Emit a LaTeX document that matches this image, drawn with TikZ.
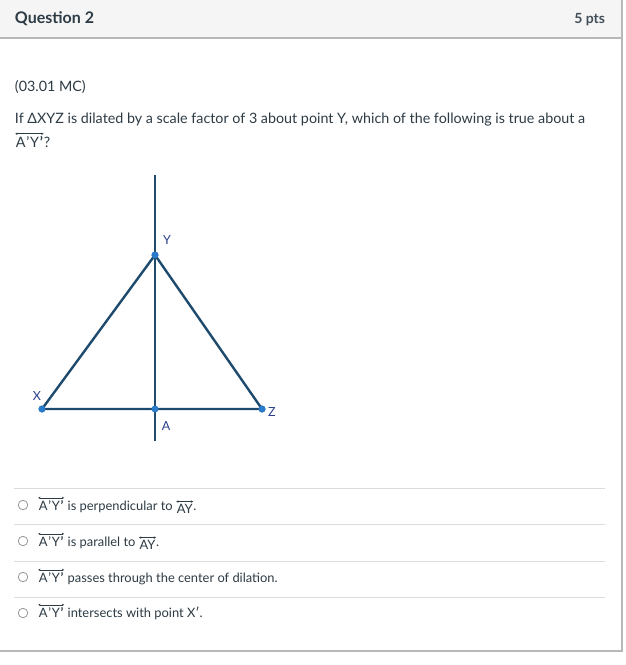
\documentclass[tikz,border=0pt]{standalone}
\usepackage{fontspec}
\setmainfont{Lato}
\usetikzlibrary{positioning,arrows.meta}
\definecolor{headgray}{HTML}{F5F5F5}
\definecolor{framegray}{HTML}{B8B8B8}
\definecolor{rulegray}{HTML}{DCDCDC}
\definecolor{txtdark}{HTML}{2D3B45}
\definecolor{segblue}{HTML}{1E4A6D}
\definecolor{dotblue}{HTML}{2B7BCB}
\definecolor{lblblue}{HTML}{2A3F8C}
% line symbol drawn over a pair of points
\newcommand{\lineover}[1]{\tikz[baseline=(w.base),x=1pt,y=1pt]{\node[inner sep=0pt,outer sep=0pt] (w) {#1};
\draw[{Stealth[length=2.2pt,width=2.4pt]}-{Stealth[length=2.2pt,width=2.4pt]},line width=0.6pt,draw=txtdark]
([xshift=-0.5pt,yshift=2.2pt]w.north west) -- ([xshift=0.5pt,yshift=2.2pt]w.north east);}}
\newcommand{\primeline}{\lineover{A\kern0.8pt’\kern0.8pt Y\kern0.8pt{\bfseries ’}}}
\begin{document}
\begin{tikzpicture}[x=1pt,y=-1pt,inner sep=0pt,outer sep=0pt,
txt/.style={anchor=base west,text=txtdark,font=\fontsize{14.3}{16}\selectfont},
opt/.style={anchor=base west,text=txtdark,font=\fontsize{12.9}{14}\selectfont},
radio/.style={draw=gray!80,circle,minimum size=9.5pt,line width=0.8pt},
seg/.style={segblue,line width=2.4pt},
pt/.style={fill=dotblue,circle,minimum size=7pt},
lbl/.style={text=lblblue,font=\fontsize{12.5}{14}\selectfont}]
\useasboundingbox (0,0) rectangle (625,665);
% frame and header
\fill[white] (0,0) rectangle (622,651);
\fill[headgray] (0,0) rectangle (622,38);
\draw[framegray,line width=1.2pt] (0,38) -- (622,38);
\draw[framegray,line width=1.4pt] (0,651) -- (622,651) -- (622,0);
\node[txt,font=\bfseries\fontsize{16}{18}\selectfont] (qtitle) at (15,23) {Question 2};
\node[anchor=base east,text=txtdark!90,font=\bfseries\fontsize{14}{16}\selectfont] (pts) at (605,23) {5 pts};
% question
\node[txt] (code) at (15,91) {(03.01 MC)};
\node[txt] (ask) at (15,123) {If ΔXYZ is dilated by a scale factor of 3 about point Y, which of the following is true about a};
\node[txt] (ask2) at (15,147) {\primeline?};
% figure
\coordinate (top) at (155,175);
\coordinate (bot) at (155,441);
\node[pt] (Y) at (155,255) {};
\node[pt] (X) at (42,409) {};
\node[pt] (Z) at (262,409) {};
\node[pt,minimum size=6pt] (A) at (155,409) {};
\draw[seg] (top) -- (bot);
\draw[seg,line join=round] (X.center) -- (Y.center) -- (Z.center) -- (X.center);
\foreach \p in {X,Y,Z,A} \node[pt] at (\p) {};
\node[lbl] (Ylbl) at (167,240) {Y};
\node[lbl] (Xlbl) at (37,396) {X};
\node[lbl] (Zlbl) at (272,412) {Z};
\node[lbl] (Albl) at (166,426) {A};
% answer choices
\foreach \y in {488,524,561,597} \draw[rulegray,line width=0.8pt] (14,\y) -- (605,\y);
\node[radio] (r1) at (23,505) {};
\node[radio] (r2) at (23,541) {};
\node[radio] (r3) at (23,577) {};
\node[radio] (r4) at (23,613) {};
\node[opt] (c1) at (38,510) {\primeline\ is perpendicular to \raisebox{-3pt}{\lineover{AY}}.};
\node[opt] (c2) at (38,546) {\primeline\ is parallel to \raisebox{-3pt}{\lineover{AY}}.};
\node[opt] (c3) at (38,582) {\primeline\ passes through the center of dilation.};
\node[opt] (c4) at (38,617) {\primeline\ intersects with point X′.};
\end{tikzpicture}
\end{document}
